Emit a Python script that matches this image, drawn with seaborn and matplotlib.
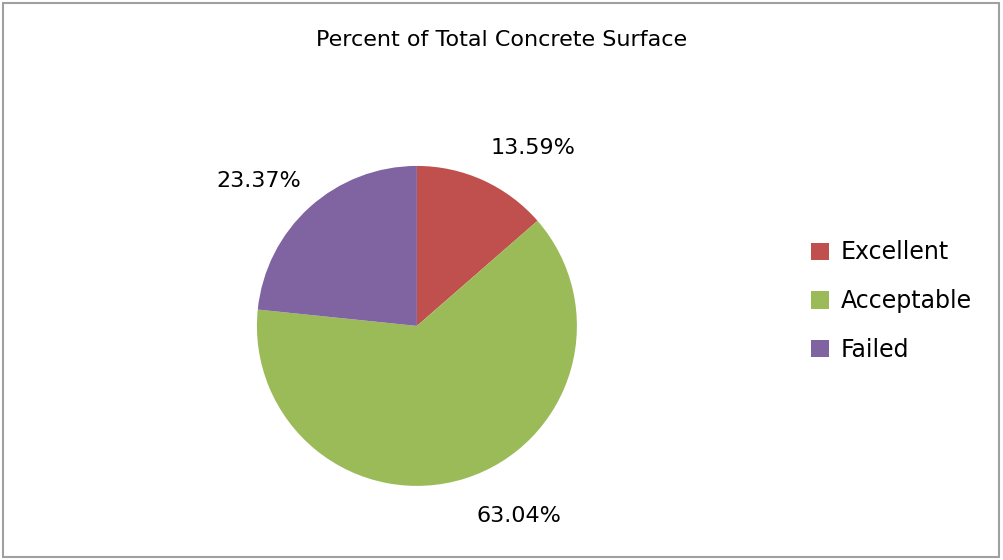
import matplotlib
matplotlib.use("Agg")
import matplotlib.pyplot as plt
import seaborn as sns
from matplotlib.patches import Rectangle

sns.set_theme(style="white")
plt.rcParams['font.family'] = ['DejaVu Sans']

title = "Percent of Total Concrete Surface"
categories = ["Excellent", "Acceptable", "Failed"]
values = [13.59, 63.04, 23.37]
colors = ["#C0504D", "#9BBB59", "#8064A2"]

fig = plt.figure(figsize=(10.04, 5.6), dpi=100)
fig.patch.set_facecolor("white")
fig.patches.append(Rectangle((0.003, 0.005), 0.992, 0.99, transform=fig.transFigure,
                             fill=False, edgecolor="#A0A0A0", linewidth=1.5))

ax = fig.add_axes([0.4153 - 0.1594, 0.418 - 0.2857, 0.3187, 0.5714])
wedges, texts, autotexts = ax.pie(values, colors=colors, startangle=90, counterclock=False,
                                  autopct=lambda p: f"{p:.2f}%", pctdistance=1.34,
                                  wedgeprops=dict(linewidth=0),
                                  textprops=dict(fontsize=16, color="black"))
# best-fit style label nudges (in axes data units, radius = 1)
nudges = [(0.17, -0.11), (0.23, 0.09), (-0.09, -0.09)]
for t, (dx, dy) in zip(autotexts, nudges):
    x, y = t.get_position()
    t.set_position((x + dx, y + dy))
ax.set_xlim(-1, 1)
ax.set_ylim(-1, 1)
ax.set_aspect("equal")

fig.text(0.5, 0.928, title, ha="center", va="center", fontsize=16, color="black")

leg = fig.legend(wedges, categories, loc="center left", bbox_to_anchor=(0.787, 0.462),
                 frameon=False, fontsize=17, handlelength=0.75, handleheight=0.75,
                 labelspacing=1.05, handletextpad=0.5)
for t in leg.get_texts():
    t.set_color("black")

fig.savefig("out.png", dpi=100)
